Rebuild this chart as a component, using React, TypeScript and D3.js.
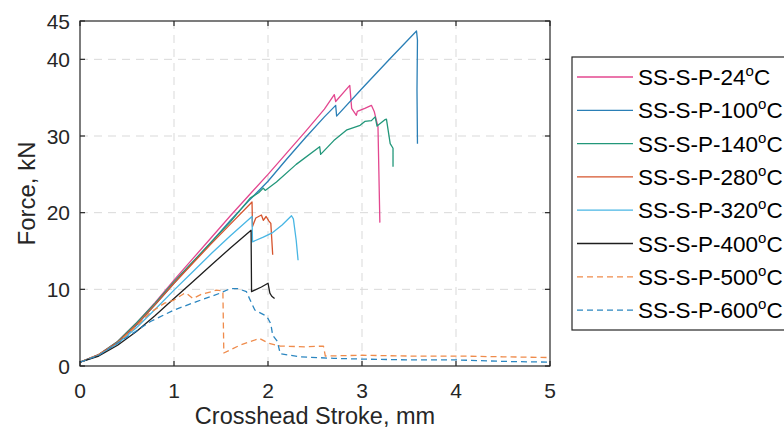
import React from "react";
import * as d3 from "d3";

type Pt = [number, number];

const xTicks = [0, 1, 2, 3, 4, 5];
const yTicks = [0, 10, 20, 30, 40, 45];
const xGrid = [1, 2, 3, 4];
const yGrid = [10, 20, 30, 40];

const seriesNames = ["24", "100", "140", "280", "320", "400", "500", "600"];
const seriesColors = ["#e3478f", "#2a7fb6", "#22977a", "#d6542d", "#48b6e4", "#1e1e1e", "#ef8b4b", "#2b86c0"];
const seriesDashed = [false, false, false, false, false, false, true, true];

const s24: Pt[] = [[0,0.5],[0.2,1.5],[0.4,3.2],[0.6,5.6],[0.8,8.3],[1.0,11.2],[1.2,14.0],[1.4,16.8],[1.6,19.6],[1.8,22.3],[2.0,25.0],[2.2,27.8],[2.4,30.6],[2.6,33.5],[2.705,35.4],[2.72,34.5],[2.87,36.6],[2.89,33.6],[2.94,32.7],[2.95,33.2],[3.03,33.6],[3.10,34.0],[3.13,33.2],[3.17,31.2],[3.18,25],[3.19,18.7]];
const s100: Pt[] = [[0,0.5],[0.2,1.4],[0.4,3.0],[0.6,5.3],[0.8,8.0],[1.0,10.8],[1.2,13.5],[1.4,16.2],[1.6,19.0],[1.8,21.6],[2.0,24.1],[2.2,27.0],[2.4,29.8],[2.6,32.5],[2.72,34.0],[2.73,32.6],[3.0,36.2],[3.3,40.1],[3.58,43.7],[3.59,42.5],[3.585,36],[3.59,29.0]];
const s140: Pt[] = [[0,0.5],[0.2,1.5],[0.4,3.2],[0.6,5.6],[0.8,8.2],[1.0,11.0],[1.2,13.6],[1.4,16.2],[1.6,18.8],[1.81,21.9],[1.9,22.6],[1.95,23.2],[1.97,22.9],[2.09,24.0],[2.3,26.3],[2.55,28.6],[2.56,27.6],[2.7,29.4],[2.84,30.8],[2.98,31.4],[3.03,31.9],[3.10,32.0],[3.14,32.5],[3.16,31.3],[3.24,32.1],[3.26,32.2],[3.30,29.0],[3.33,28.4],[3.33,26.0]];
const s280: Pt[] = [[0,0.5],[0.2,1.5],[0.4,3.1],[0.6,5.4],[0.8,8.0],[1.0,10.8],[1.2,13.4],[1.4,16.0],[1.6,18.5],[1.83,21.4],[1.835,18.2],[1.87,19.3],[1.93,19.7],[1.95,19.0],[1.98,19.5],[2.01,18.9],[2.03,18.6],[2.05,14.5]];
const s320: Pt[] = [[0,0.5],[0.2,1.4],[0.4,2.9],[0.6,5.0],[0.8,7.4],[1.0,9.9],[1.2,12.3],[1.4,14.7],[1.6,17.0],[1.83,19.5],[1.835,16.2],[1.95,16.8],[2.05,17.4],[2.15,18.4],[2.25,19.6],[2.27,19.2],[2.30,16.4],[2.32,13.8]];
const s400: Pt[] = [[0,0.5],[0.2,1.3],[0.4,2.7],[0.6,4.5],[0.8,6.6],[1.0,8.8],[1.2,11.0],[1.4,13.2],[1.6,15.4],[1.82,17.7],[1.825,9.7],[1.93,10.3],[2.0,10.8],[2.02,9.5],[2.04,9.1],[2.07,8.8]];
const s500: Pt[] = [[0,0.5],[0.2,1.5],[0.4,3.0],[0.6,5.2],[0.75,7.0],[0.9,8.2],[1.0,8.6],[1.1,9.4],[1.13,9.5],[1.2,8.8],[1.3,9.4],[1.4,9.7],[1.45,9.9],[1.52,9.8],[1.53,1.7],[1.7,2.7],[1.91,3.6],[2.0,3.0],[2.13,2.6],[2.4,2.5],[2.59,2.6],[2.61,1.3],[3.0,1.4],[3.5,1.3],[4.0,1.3],[4.5,1.2],[5.0,1.1]];
const s600: Pt[] = [[0,0.5],[0.2,1.4],[0.4,3.0],[0.53,4.0],[0.75,5.8],[1.0,7.3],[1.24,8.4],[1.49,9.5],[1.6,10.1],[1.68,10.1],[1.77,9.7],[1.81,8.6],[1.86,7.3],[1.97,6.6],[2.0,6.2],[2.03,5.5],[2.05,4.0],[2.1,3.2],[2.13,1.6],[2.34,1.2],[2.7,1.0],[3.0,0.9],[3.5,0.8],[4.0,0.8],[4.5,0.6],[5.0,0.5]];

const seriesData: Pt[][] = [s24, s100, s140, s280, s320, s400, s500, s600];

const W = 784, H = 430;
const L = 80, R = 550, T = 21, B = 366;
const FONT = "'Liberation Sans', Arial, Helvetica, sans-serif";
const AX = "#262626";

export default function App() {
  const x = d3.scaleLinear().domain([0, 5]).range([L, R]);
  const y = d3.scaleLinear().domain([0, 45]).range([B, T]);
  const line = d3.line<Pt>().x(d => x(d[0])).y(d => y(d[1]));

  const legX = 572, legY = 57, legStep = 33.3, legFirst = 77;

  return (
    <svg width={W} height={H} style={{ position: "absolute", left: 0, top: 0, background: "#fff" }} fontFamily={FONT}>
      <rect x={0} y={0} width={W} height={H} fill="#fff" />
      <defs>
        <clipPath id="clip"><rect x={L} y={T} width={R - L} height={B - T} /></clipPath>
      </defs>
      {xGrid.map(v => (
        <line key={"gx" + v} x1={x(v)} x2={x(v)} y1={T} y2={B} stroke="#d9d9d9" strokeWidth={1} strokeDasharray="8,6" />
      ))}
      {yGrid.map(v => (
        <line key={"gy" + v} x1={L} x2={R} y1={y(v)} y2={y(v)} stroke="#d9d9d9" strokeWidth={1} strokeDasharray="8,6" />
      ))}
      <g clipPath="url(#clip)">
        {seriesData.map((d, i) => (
          <path key={"s" + i} d={line(d) || ""} fill="none" stroke={seriesColors[i]} strokeWidth={1.3}
            strokeDasharray={seriesDashed[i] ? "6,4" : undefined} strokeLinejoin="round" />
        ))}
      </g>
      <rect x={L} y={T} width={R - L} height={B - T} fill="none" stroke={AX} strokeWidth={1.2} />
      {xTicks.map(v => (
        <g key={"xt" + v}>
          <line x1={x(v)} x2={x(v)} y1={B} y2={B - 5} stroke={AX} strokeWidth={1.2} />
          <line x1={x(v)} x2={x(v)} y1={T} y2={T + 5} stroke={AX} strokeWidth={1.2} />
          <text x={x(v)} y={398} textAnchor="middle" fontSize={21} fill={AX}>{v}</text>
        </g>
      ))}
      {yTicks.map(v => (
        <g key={"yt" + v}>
          <line x1={L} x2={L + 5} y1={y(v)} y2={y(v)} stroke={AX} strokeWidth={1.2} />
          <line x1={R} x2={R - 5} y1={y(v)} y2={y(v)} stroke={AX} strokeWidth={1.2} />
          <text x={70} y={y(v) + 7.5} textAnchor="end" fontSize={21} fill={AX}>{v}</text>
        </g>
      ))}
      <text x={(L + R) / 2} y={424} textAnchor="middle" fontSize={23.5} fill={AX}>Crosshead Stroke, mm</text>
      <text transform={`translate(35,${(T + B) / 2}) rotate(-90)`} textAnchor="middle" fontSize={24} fill={AX}>Force, kN</text>
      <rect x={legX} y={legY} width={W - legX + 20} height={273} fill="#fff" stroke={AX} strokeWidth={1.2} />
      {seriesNames.map((n, i) => {
        const yy = legFirst + i * legStep;
        return (
          <g key={"lg" + i}>
            <line x1={577} x2={633} y1={yy} y2={yy} stroke={seriesColors[i]} strokeWidth={1.3}
              strokeDasharray={seriesDashed[i] ? "6,4" : undefined} />
            <text x={638} y={yy + 8} fontSize={22.5} fill="#000">
              {`SS-S-P-${n}`}
              <tspan fontSize={15} dy={-9}>o</tspan>
              <tspan dy={9}>C</tspan>
            </text>
          </g>
        );
      })}
    </svg>
  );
}
